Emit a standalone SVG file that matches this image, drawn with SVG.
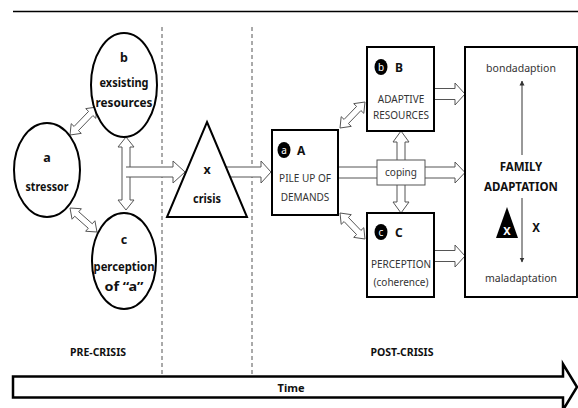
<svg xmlns="http://www.w3.org/2000/svg" width="578" height="408" viewBox="0 0 578 408">
<defs>
<style>
.b{font-family:"Noto Sans","DejaVu Sans",sans-serif;font-weight:bold;font-size:12px;fill:#111;text-anchor:middle}
.c{font-size:12.5px}
.r{font-family:"Noto Sans","DejaVu Sans",sans-serif;font-size:10px;fill:#333;text-anchor:middle}
.shape{fill:#fff;stroke:#000;stroke-width:2}
.hol{fill:#fff;stroke:#555;stroke-width:1;stroke-linejoin:miter}
.dash{stroke:#555;stroke-width:1;stroke-dasharray:4 3;fill:none}
.badge{fill:#000}
.bt{font-family:"Noto Sans","DejaVu Sans",sans-serif;font-size:10px;fill:#fff;text-anchor:middle}
.thin{stroke:#333;stroke-width:1}
</style>
<marker id="ah" viewBox="0 0 10 10" refX="9" refY="5" markerWidth="5" markerHeight="6" orient="auto" markerUnits="userSpaceOnUse"><path d="M0,0 L10,5 L0,10 z" fill="#333"/></marker>
</defs>
<rect width="578" height="408" fill="#fff"/>
<line x1="13" y1="11.5" x2="578" y2="11.5" stroke="#000" stroke-width="1.5"/>
<g id="dividers">
<line class="dash" x1="162" y1="27" x2="162" y2="376"/>
<line class="dash" x1="252" y1="27" x2="252" y2="376"/>
</g>
<g id="connectors">
<polygon class="hol" points="70,135 81.29,133.38 78.41,130.6 92.91,115.56 95.79,118.34 97,107 85.71,108.62 88.59,111.4 74.09,126.44 71.21,123.66"/>
<polygon class="hol" points="70,208 72.07,219.22 74.73,216.22 88.27,228.26 85.61,231.26 97,232 94.93,220.78 92.27,223.78 78.73,211.74 81.39,208.74"/>
<polygon class="hol" points="126,137 134,147 130,147 130,200 134,200 126,210 118,200 122,200 122,147 118,147"/>
<path class="hol" d="M126,167 H173 V161 L185,172 L173,183 V177 H126"/>
<path class="hol" d="M226,167 H261 V161 L271,172 L261,183 V177 H226"/>
<polygon class="hol" points="340,128 351.29,126.36 348.4,123.59 360.92,110.57 363.81,113.34 365,102 353.71,103.64 356.6,106.41 344.08,119.43 341.19,116.66"/>
<polygon class="hol" points="340,213 341.19,224.34 344.08,221.57 356.6,234.59 353.71,237.36 365,239 363.81,227.66 360.92,230.43 348.4,217.41 351.29,214.64"/>
<path class="hol" d="M338,167 H455 V162 L465,172.5 L455,183 V178 H338"/>
<polygon class="hol" points="401,131 409,142 405,142 405,202 409,202 401,213 393,202 397,202 397,142 393,142"/>
<path class="hol" d="M434,88.5 H455 V83 L465,94 L455,105 V99.5 H434"/>
<path class="hol" d="M434,250.5 H455 V245 L465,256 L455,267 V261.5 H434"/>
</g>
<g id="stressor">
<ellipse class="shape" cx="47" cy="170" rx="33" ry="47"/>
<text class="b c" x="47" y="162">a</text>
<text class="b c" x="47" y="191" textLength="43" lengthAdjust="spacingAndGlyphs">stressor</text>
</g>
<g id="existing-resources">
<ellipse class="shape" cx="124" cy="85" rx="33" ry="52"/>
<text class="b c" x="124" y="62">b</text>
<text class="b c" x="124" y="87" textLength="49" lengthAdjust="spacingAndGlyphs">exsisting</text>
<text class="b c" x="124" y="107" textLength="57" lengthAdjust="spacingAndGlyphs">resources</text>
</g>
<g id="perception-a">
<ellipse class="shape" cx="124" cy="261" rx="32" ry="48"/>
<text class="b c" x="124" y="244">c</text>
<text class="b c" x="124" y="271" textLength="61" lengthAdjust="spacingAndGlyphs">perception</text>
<text class="b c" x="124" y="291" textLength="39" lengthAdjust="spacingAndGlyphs">of “a”</text>
</g>
<g id="crisis">
<polygon class="shape" points="207,122 247,217 167,217" stroke-width="2.5"/>
<text class="b c" x="207" y="174">x</text>
<text class="b c" x="207" y="203" textLength="28" lengthAdjust="spacingAndGlyphs">crisis</text>
</g>
<g id="pile-up">
<rect class="shape" x="272" y="130" width="66" height="85"/>
<ellipse class="badge" cx="284" cy="150" rx="6.5" ry="8"/>
<text class="bt" x="284" y="153.5">a</text>
<text class="b" x="297" y="154.5" style="text-anchor:start">A</text>
<text class="r" x="305" y="181.5">PILE UP OF</text>
<text class="r" x="305" y="200.5">DEMANDS</text>
</g>
<g id="adaptive-resources">
<rect class="shape" x="367" y="47" width="67" height="84"/>
<ellipse class="badge" cx="381" cy="67" rx="6.5" ry="8"/>
<text class="bt" x="381" y="70.5">b</text>
<text class="b" x="395" y="71.5" style="text-anchor:start">B</text>
<text class="r" x="401" y="102.5">ADAPTIVE</text>
<text class="r" x="401" y="118.5">RESOURCES</text>
</g>
<g id="perception">
<rect class="shape" x="367" y="213" width="67" height="84"/>
<ellipse class="badge" cx="381" cy="232" rx="6.5" ry="8"/>
<text class="bt" x="381" y="235.5">c</text>
<text class="b" x="395" y="236.5" style="text-anchor:start">C</text>
<text class="r" x="401" y="267.5">PERCEPTION</text>
<text class="r" x="401" y="285.5">(coherence)</text>
</g>
<g id="coping">
<rect x="377" y="160" width="48" height="25" fill="#fff" stroke="#555" stroke-width="1"/>
<text class="r" x="401" y="176">coping</text>
</g>
<g id="family-adaptation">
<rect class="shape" x="465" y="47" width="112" height="250"/>
<text class="r" x="521" y="72" style="font-size:10.5px">bondadaption</text>
<text class="b" x="521" y="171" style="font-size:11.5px">FAMILY</text>
<text class="b" x="521" y="191" style="font-size:11.5px">ADAPTATION</text>
<polygon points="507,207 518,238 496,238" fill="#000"/>
<text x="507" y="235" style="font-family:'Noto Sans',sans-serif;font-weight:bold;font-size:11px;fill:#fff;text-anchor:middle">X</text>
<text class="b" x="536" y="232" style="font-size:11.5px">X</text>
<text class="r" x="521" y="282" style="font-size:10.5px">maladaptation</text>
</g>
<g id="family-arrows">
<line class="thin" x1="522" y1="155" x2="522" y2="81" marker-end="url(#ah)"/>
<line class="thin" x1="522" y1="198" x2="522" y2="262" marker-end="url(#ah)"/>
</g>
<g id="phases">
<text class="b" x="98" y="356" style="font-size:10.5px">PRE-CRISIS</text>
<text class="b" x="402" y="356" style="font-size:10.5px">POST-CRISIS</text>
</g>
<g id="time">
<polygon points="13,376.5 563,376.5 563,364 577,387 563,410 563,397.5 13,397.5" fill="#fff" stroke="#000" stroke-width="2.5"/>
<text class="b" x="291" y="392" style="font-size:11px">Time</text>
</g>
</svg>
